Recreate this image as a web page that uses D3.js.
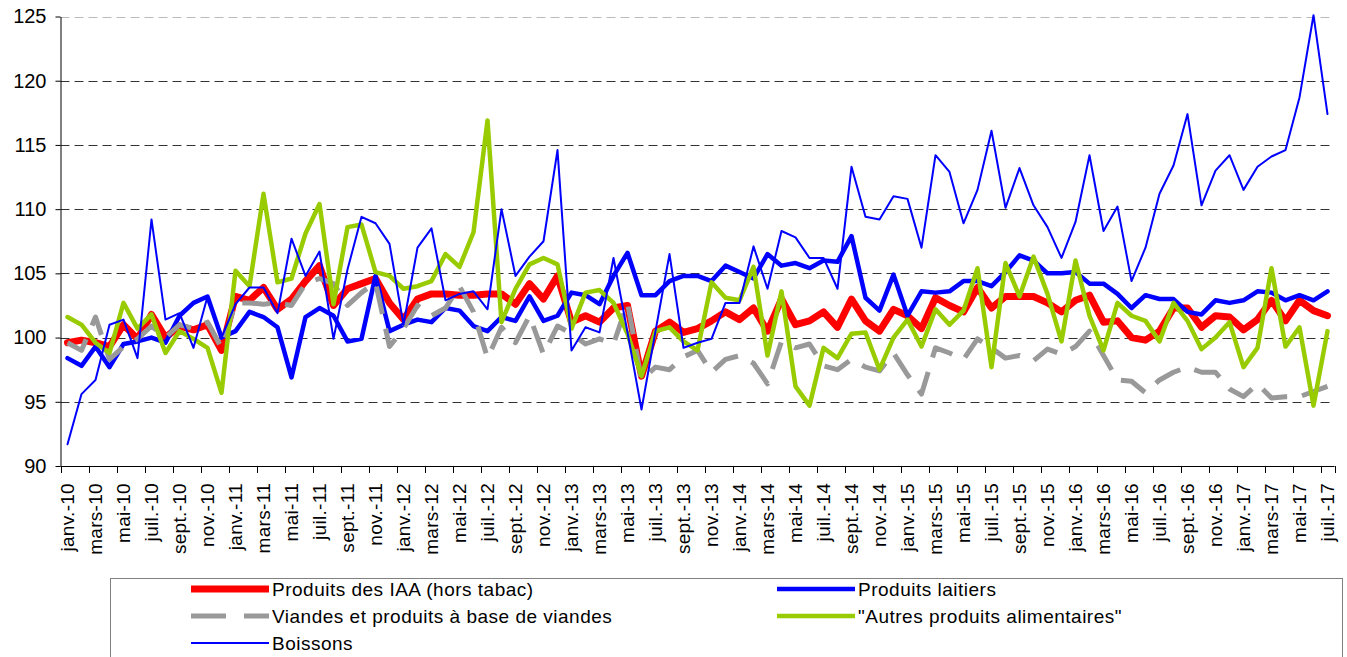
<!DOCTYPE html>
<html>
<head>
<meta charset="utf-8">
<script src="https://cdn.jsdelivr.net/npm/d3@7"></script>
<style>
    body { margin: 0; background: #fff; }
    text { font-family: "Liberation Sans", Arial, sans-serif; fill: #000; }
</style>
</head>
<body>
<div id="chart"></div>
<script>
// month names and years used for the category axis
const monthNames = ["janv.", "févr.", "mars", "avr.", "mai", "juin", "juil.", "août", "sept.", "oct.", "nov.", "déc."];
const years = ["10", "11", "12", "13", "14", "15", "16", "17"];
const yTicks = [90, 95, 100, 105, 110, 115, 120, 125];

// janv.-10 .. juil.-17 (91 months)
const iaa = [99.6, 99.8, 99.6, 99.3, 101.0, 99.9, 101.8, 100.0, 100.9, 100.6, 101.0,
    99.0, 103.2, 102.9, 103.9, 102.2, 103.0, 104.4, 105.6, 102.5, 103.8, 104.2,
    104.6, 102.7, 101.4, 103.0, 103.4, 103.4, 103.3, 103.3, 103.4, 103.4, 102.6, 104.2,
    103.0, 104.8, 101.2, 101.7, 101.2, 102.3, 102.5, 97.0, 100.5, 101.2, 100.4,
    100.7, 101.3, 102.0, 101.4, 102.3, 100.5, 103.0, 101.0, 101.3, 102.0, 100.8,
    103.0, 101.3, 100.5, 102.2, 101.7, 100.7, 103.1, 102.5, 102.0, 103.9, 102.3,
    103.2, 103.2, 103.2, 102.7, 102.0, 102.9, 103.3, 101.2, 101.3, 100.0, 99.8,
    100.5, 102.3, 102.3, 100.8, 101.7, 101.6, 100.6, 101.4, 102.9, 101.3, 102.9, 102.1, 101.7];

const laitiers = [98.4, 97.8, 99.3, 97.7, 99.5, 99.7, 100.0, 99.6, 101.7, 102.7, 103.2,
    100.0, 100.5, 102.0, 101.6, 100.8, 96.9, 101.6, 102.3, 101.7, 99.7, 99.9,
    104.8, 100.5, 101.0, 101.4, 101.2, 102.3, 102.1, 100.9, 100.5, 101.6, 101.3, 103.2,
    101.3, 101.7, 103.5, 103.3, 102.6, 104.8, 106.6, 103.3, 103.3, 104.4, 104.8,
    104.8, 104.4, 105.6, 105.1, 104.6, 106.5, 105.6, 105.8, 105.4, 106.0, 105.9,
    107.9, 103.1, 102.1, 104.9, 101.7, 103.6, 103.5, 103.6, 104.4, 104.4, 104.0,
    105.1, 106.4, 106.0, 105.0, 105.0, 105.1, 104.2, 104.2, 103.4, 102.3, 103.3,
    103.0, 103.0, 102.0, 101.8, 102.9, 102.7, 102.9, 103.6, 103.5, 102.9, 103.3, 102.9, 103.6];

const viandes = [99.6, 99.0, 101.6, 98.3, 99.3, 99.9, 100.9, 100.0, 101.0, 100.7, 101.2,
    99.2, 102.7, 102.7, 102.6, 102.7, 102.5, 104.2, 104.6, 104.2, 102.5, 103.5,
    104.3, 99.3, 100.7, 102.5, 101.7, 102.3, 104.0, 102.0, 98.4, 100.8, 99.6, 101.7,
    98.7, 100.9, 100.3, 99.5, 99.9, 99.5, 102.7, 96.7, 97.7, 97.5, 98.5,
    99.0, 97.3, 98.3, 98.6, 98.0, 96.4, 99.7, 99.2, 99.5, 97.8, 97.5,
    98.3, 97.7, 97.4, 98.8, 97.1, 95.6, 99.2, 98.8, 98.3, 99.9, 99.2,
    98.4, 98.6, 98.2, 99.1, 98.7, 99.3, 100.5, 98.6, 96.7, 96.6, 95.7,
    96.7, 97.3, 97.7, 97.3, 97.3, 96.0, 95.4, 96.4, 95.3, 95.4, 95.4, 95.8, 96.2];

const autres = [101.6, 101.0, 99.6, 98.8, 102.7, 100.7, 101.8, 98.8, 100.5, 99.9, 99.2,
    95.7, 105.2, 104.0, 111.2, 104.3, 104.6, 108.1, 110.4, 102.6, 108.6, 108.8,
    105.1, 104.8, 103.8, 104.0, 104.4, 106.5, 105.5, 108.2, 116.9, 101.2, 103.8, 105.7,
    106.2, 105.7, 100.7, 103.5, 103.7, 102.7, 100.3, 97.0, 100.5, 100.8, 99.7,
    99.0, 104.3, 103.1, 102.9, 105.5, 98.6, 103.6, 96.2, 94.7, 99.2, 98.4,
    100.3, 100.4, 97.5, 100.0, 101.4, 99.3, 102.2, 101.0, 102.1, 105.4, 97.7,
    105.8, 103.2, 106.3, 103.4, 99.7, 106.0, 101.7, 99.0, 102.7, 101.7, 101.3,
    99.7, 102.7, 101.3, 99.1, 100.0, 101.2, 97.7, 99.2, 105.4, 99.3, 100.8, 94.7, 100.5];

const boissons = [91.7, 95.6, 96.7, 101.0, 101.4, 98.4, 109.2, 101.4, 101.9, 99.2, 103.2,
    100.0, 102.6, 103.9, 103.9, 101.9, 107.7, 104.8, 106.7, 99.9, 105.3, 109.4,
    108.9, 107.3, 101.0, 107.0, 108.5, 102.9, 103.4, 103.6, 102.2, 110.0, 104.8, 106.3,
    107.5, 114.6, 99.0, 100.8, 100.4, 106.2, 100.4, 94.4, 100.5, 106.5, 99.2,
    99.6, 99.9, 102.7, 102.7, 107.1, 103.8, 108.3, 107.8, 106.2, 106.2, 103.8,
    113.3, 109.4, 109.2, 111.0, 110.8, 107.0, 114.2, 112.9, 108.9, 111.5, 116.1,
    110.1, 113.2, 110.3, 108.6, 106.2, 109.0, 114.2, 108.3, 110.2, 104.4, 107.0,
    111.2, 113.4, 117.4, 110.3, 113.0, 114.2, 111.5, 113.3, 114.1, 114.6, 118.7, 125.1, 117.4];

let months = [];
years.forEach(function (yy) {
    monthNames.forEach(function (m) { months.push(m + "-" + yy); });
});
months = months.slice(0, iaa.length);

const width = 1347, height = 657;
const plot = { left: 60.5, right: 1334.5, top: 16.5, bottom: 466 };

let svg = d3.select("#chart")
    .append("svg")
    .attr("width", width)
    .attr("height", height);

let x = d3.scaleBand()
    .domain(months)
    .range([plot.left, plot.right]);

let y = d3.scaleLinear()
    .domain([90, 125])
    .range([plot.bottom, plot.top]);

let cx = function (m) { return x(m) + x.bandwidth() / 2; };

// dashed gridlines
svg.append("g")
    .selectAll("line")
    .data(yTicks.filter(function (t) { return t > 90; }))
    .join("line")
    .attr("x1", plot.left)
    .attr("x2", plot.right)
    .attr("y1", function (d) { return Math.round(y(d)) + 0.5; })
    .attr("y2", function (d) { return Math.round(y(d)) + 0.5; })
    .attr("stroke", function (d) { return d === 125 ? "#bbb" : "#333"; })
    .attr("stroke-width", 1)
    .attr("stroke-dasharray", "9,5");

// y axis
let yAxis = svg.append("g")
    .attr("transform", `translate(${plot.left}, 0)`)
    .call(d3.axisLeft(y).tickValues(yTicks).tickSize(5).tickSizeOuter(0).tickPadding(9));
yAxis.select(".domain").attr("stroke", "#000");
yAxis.selectAll(".tick line").attr("stroke", "#000");
yAxis.selectAll("text")
    .style("font-size", "20px")
    .attr("fill", "#000");

// x axis: tick marks between categories, labels every second month
let xg = svg.append("g");
xg.append("line")
    .attr("x1", plot.left)
    .attr("x2", plot.right)
    .attr("y1", plot.bottom + 0.5)
    .attr("y2", plot.bottom + 0.5)
    .attr("stroke", "#000");

let tickPos = months.filter(function (m, i) { return i % 2 === 0; }).map(function (m) { return x(m); });
tickPos.push(plot.right);
xg.selectAll(".xtick")
    .data(tickPos)
    .join("line")
    .attr("class", "xtick")
    .attr("x1", function (d) { return Math.round(d) + 0.5; })
    .attr("x2", function (d) { return Math.round(d) + 0.5; })
    .attr("y1", plot.bottom)
    .attr("y2", plot.bottom + 7)
    .attr("stroke", "#000");

xg.selectAll(".xlabel")
    .data(months.filter(function (m, i) { return i % 2 === 0; }))
    .join("text")
    .attr("class", "xlabel")
    .attr("transform", function (d) { return `translate(${cx(d)}, ${plot.bottom + 17}) rotate(-90)`; })
    .attr("text-anchor", "end")
    .attr("dy", "0.35em")
    .style("font-size", "19px")
    .style("letter-spacing", "0.3px")
    .text(function (d) { return d; });

// series, drawn in legend order
let series = [
    { name: "Produits des IAA (hors tabac)", values: iaa, color: "#ff0000", width: 7, dash: null },
    { name: "Produits laitiers", values: laitiers, color: "#0000ff", width: 4.5, dash: null },
    { name: "Viandes et produits à base de viandes", values: viandes, color: "#999999", width: 5, dash: "28,15" },
    { name: "\"Autres produits alimentaires\"", values: autres, color: "#99cc00", width: 4.5, dash: null },
    { name: "Boissons", values: boissons, color: "#0000ff", width: 2, dash: null }
];

let line = d3.line()
    .x(function (d, i) { return cx(months[i]); })
    .y(function (d) { return y(d); });

svg.append("g")
    .selectAll("path")
    .data(series)
    .join("path")
    .attr("d", function (d) { return line(d.values); })
    .attr("fill", "none")
    .attr("stroke", function (d) { return d.color; })
    .attr("stroke-width", function (d) { return d.width; })
    .attr("stroke-dasharray", function (d) { return d.dash; })
    .attr("stroke-linejoin", "round")
    .attr("stroke-linecap", function (d) { return d.dash ? "butt" : "round"; });

// legend
let legend = svg.append("g");
legend.append("rect")
    .attr("x", 110.5)
    .attr("y", 578.5)
    .attr("width", 1232)
    .attr("height", 100)
    .attr("fill", "none")
    .attr("stroke", "#808080");

let legendPos = [
    { lx: 191, ty: 589 }, { lx: 777, ty: 589 },
    { lx: 191, ty: 616 }, { lx: 777, ty: 616 },
    { lx: 191, ty: 643 }
];

let items = legend.selectAll(".item")
    .data(series)
    .join("g")
    .attr("class", "item")
    .attr("transform", function (d, i) { return `translate(${legendPos[i].lx}, ${legendPos[i].ty})`; });

items.append("line")
    .attr("x1", 0)
    .attr("x2", 78)
    .attr("stroke", function (d) { return d.color; })
    .attr("stroke-width", function (d) { return d.width; })
    .attr("stroke-dasharray", function (d) { return d.dash ? "35,18" : null; });

items.append("text")
    .attr("x", 81)
    .attr("dy", "0.35em")
    .style("font-size", "19px")
    .style("letter-spacing", "0.5px")
    .text(function (d) { return d.name; });
</script>
</body>
</html>
